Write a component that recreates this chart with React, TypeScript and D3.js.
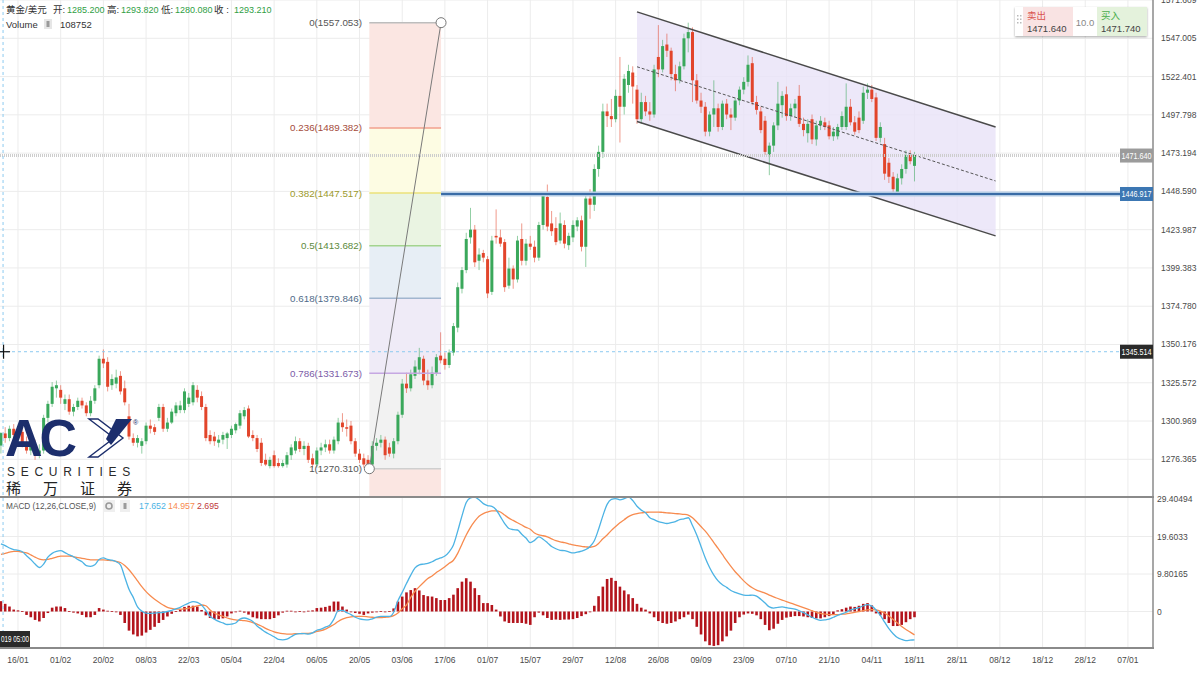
import React from "react";
import * as d3 from "d3";

// layout
const AXIS_X = 1153;
const MAIN_BOTTOM = 497;
const MACD_BOTTOM = 648;
const FONT = "'Liberation Sans', Arial, 'Noto Sans CJK SC', sans-serif";

// x axis labels, one every 10 bars starting at bar 4
const dateLabels = ["16/01", "01/02", "20/02", "08/03", "22/03", "05/04", "22/04", "06/05", "20/05", "03/06", "17/06", "01/07", "15/07", "29/07", "12/08", "26/08", "09/09", "23/09", "07/10", "21/10", "04/11", "18/11", "28/11", "08/12", "18/12", "28/12", "07/01"];
const priceTicks = [1276.365, 1300.969, 1325.572, 1350.176, 1374.78, 1399.383, 1423.987, 1448.59, 1473.194, 1497.798, 1522.401, 1547.005, 1571.609];
const macdTicks = [0, 9.80165, 19.6033, 29.40494];
const macdTickLabels = ["0", "9.80165", "19.6033", "29.40494"];

// daily candles: open, high, low, close
const candles: [number, number, number, number][] = [
  [1285.2, 1293.82, 1280.08, 1293.21], [1293, 1297, 1287, 1290], [1290, 1298, 1288, 1296], [1296, 1299, 1290, 1292], [1292, 1296, 1287, 1294],
  [1294, 1297, 1284, 1286], [1286, 1291, 1280, 1282], [1282, 1287, 1279, 1285], [1285, 1289, 1276, 1280], [1280, 1286, 1277, 1282],
  [1282, 1305, 1280, 1303], [1303, 1314, 1300, 1312], [1312, 1326, 1310, 1323], [1322, 1327, 1316, 1324], [1321, 1324, 1312, 1316],
  [1312, 1318, 1308, 1315], [1315, 1318, 1305, 1307], [1307, 1312, 1304, 1310], [1310, 1316, 1308, 1314], [1314, 1316, 1309, 1311],
  [1311, 1313, 1304, 1306], [1306, 1317, 1304, 1314], [1314, 1324, 1312, 1322], [1324, 1343, 1322, 1341], [1341, 1347, 1335, 1338],
  [1339, 1342, 1320, 1323], [1324, 1331, 1321, 1328], [1325, 1334, 1322, 1329], [1330, 1333, 1318, 1320], [1322, 1327, 1311, 1313],
  [1304, 1312, 1289, 1291], [1290, 1293, 1285, 1287], [1287, 1292, 1284, 1290], [1285, 1290, 1280, 1288], [1288, 1300, 1286, 1298],
  [1298, 1302, 1293, 1296], [1297, 1299, 1292, 1294], [1303, 1312, 1301, 1310], [1310, 1312, 1294, 1296], [1296, 1303, 1294, 1300],
  [1300, 1309, 1299, 1307], [1306, 1313, 1304, 1311], [1308, 1314, 1306, 1311], [1308, 1322, 1306, 1320], [1312, 1319, 1310, 1316],
  [1313, 1326, 1311, 1324], [1321, 1324, 1313, 1316], [1317, 1320, 1308, 1310], [1310, 1312, 1288, 1290], [1292, 1295, 1286, 1288],
  [1291, 1294, 1285, 1288], [1287, 1292, 1284, 1289], [1289, 1294, 1286, 1292], [1290, 1294, 1283, 1293], [1292, 1298, 1290, 1296],
  [1295, 1300, 1293, 1299], [1298, 1308, 1296, 1306], [1304, 1310, 1302, 1308], [1309, 1311, 1290, 1291], [1292, 1295, 1288, 1290],
  [1290, 1292, 1281, 1283], [1287, 1290, 1272, 1274], [1276, 1280, 1272, 1273], [1272, 1278, 1270.5, 1276], [1279, 1282, 1271, 1272],
  [1274, 1277, 1271, 1272], [1272, 1276, 1271, 1274], [1273, 1281, 1271, 1279], [1279, 1286, 1276, 1284], [1282, 1291, 1280, 1288],
  [1288, 1290, 1281, 1283], [1283, 1288, 1279, 1285], [1285, 1287, 1274, 1276], [1277, 1280, 1271, 1273], [1273, 1284, 1271, 1282],
  [1282, 1287, 1279, 1284], [1284, 1289, 1281, 1286], [1286, 1289, 1280, 1282], [1282, 1291, 1280, 1289], [1288, 1303, 1286, 1300],
  [1300, 1306, 1294, 1297], [1297, 1302, 1291, 1296], [1298, 1301, 1286, 1288], [1288, 1290, 1278, 1280], [1280, 1283, 1274, 1276],
  [1277, 1280, 1271, 1273], [1276, 1279, 1270.31, 1273], [1273, 1288, 1271, 1285], [1285, 1290, 1282, 1287], [1287, 1292, 1284, 1289],
  [1289, 1291, 1276, 1279], [1284, 1287, 1278, 1280], [1280, 1290, 1277, 1288], [1288, 1307, 1286, 1305], [1305, 1328, 1303, 1325],
  [1325, 1332, 1319, 1322], [1322, 1334, 1320, 1331], [1330, 1340, 1328, 1336], [1334, 1348, 1331, 1342], [1341, 1343, 1324, 1327],
  [1327, 1334, 1321, 1324], [1324, 1336, 1322, 1332], [1332, 1344, 1330, 1342], [1343, 1358, 1338, 1340], [1341, 1345, 1334, 1337],
  [1337, 1347, 1335, 1345], [1345, 1364, 1343, 1362], [1361, 1390, 1358, 1387], [1386, 1400, 1383, 1398], [1398, 1422, 1396, 1418],
  [1419, 1438, 1415, 1424], [1424, 1427, 1400, 1403], [1404, 1412, 1398, 1408], [1409, 1411, 1403, 1406], [1405, 1407, 1380, 1383],
  [1384, 1420, 1382, 1417], [1420, 1437, 1415, 1419], [1419, 1424, 1413, 1415], [1416, 1418, 1384, 1387], [1388, 1406, 1386, 1399],
  [1399, 1401, 1386, 1392], [1392, 1420, 1390, 1417], [1418, 1428, 1401, 1404], [1404, 1418, 1401, 1415], [1415, 1420, 1411, 1413],
  [1413, 1417, 1403, 1406], [1406, 1429, 1404, 1427], [1427, 1448, 1424, 1446], [1445, 1453, 1423, 1426], [1428, 1436, 1420, 1423],
  [1425, 1432, 1414, 1416], [1417, 1435, 1415, 1428], [1427, 1430, 1412, 1415], [1414, 1422, 1411, 1420], [1419, 1430, 1416, 1427],
  [1426, 1432, 1423, 1430], [1430, 1433, 1410, 1413], [1413, 1446, 1400, 1444], [1444, 1450, 1431, 1440], [1440, 1466, 1436, 1463],
  [1463, 1478, 1458, 1474], [1474, 1505, 1470, 1500], [1500, 1505, 1490, 1497], [1497, 1508, 1490, 1495], [1495, 1514, 1493, 1510],
  [1510, 1535, 1480, 1503], [1503, 1524, 1498, 1521], [1517, 1530, 1512, 1526], [1525, 1529, 1505, 1516], [1514, 1517, 1492, 1495],
  [1495, 1512, 1492, 1506], [1506, 1510, 1497, 1500], [1500, 1506, 1494, 1498], [1498, 1530, 1496, 1527], [1535, 1555.5, 1522, 1527],
  [1527, 1546, 1525, 1542], [1543, 1550, 1535, 1539], [1539, 1541, 1520, 1524], [1524, 1530, 1513, 1520], [1520, 1532, 1518, 1529],
  [1529, 1550, 1527, 1547], [1547, 1557.05, 1538, 1551], [1551, 1554, 1506, 1520], [1520, 1524, 1505, 1507], [1507, 1512, 1499, 1503],
  [1503, 1506, 1484, 1487], [1487, 1500, 1484, 1498], [1498, 1520, 1490, 1502], [1502, 1505, 1487, 1490], [1490, 1507, 1488, 1505],
  [1505, 1508, 1495, 1498], [1498, 1502, 1488, 1496], [1496, 1509, 1494, 1507], [1507, 1516, 1504, 1514], [1514, 1522, 1511, 1519],
  [1519, 1536, 1516, 1530], [1531, 1535, 1504, 1506], [1506, 1510, 1498, 1501], [1500, 1503, 1486, 1488], [1494, 1497, 1472, 1474],
  [1472, 1480, 1459, 1478], [1478, 1493, 1474, 1491], [1491, 1519, 1488, 1505], [1504, 1513, 1496, 1510], [1511, 1516, 1494, 1497],
  [1497, 1505, 1494, 1502], [1502, 1508, 1496, 1505], [1510, 1517, 1490, 1492], [1492, 1496, 1484, 1488], [1486, 1495, 1480, 1492],
  [1495, 1498, 1479, 1482], [1482, 1494, 1478, 1491], [1491, 1497, 1488, 1494], [1493, 1496, 1488, 1490], [1491, 1494, 1482, 1484],
  [1484, 1490, 1481, 1487], [1484, 1492, 1482, 1490], [1490, 1500, 1488, 1497], [1490, 1518, 1488, 1503], [1503, 1508, 1491, 1493],
  [1493, 1497, 1485, 1487], [1496, 1500, 1486, 1488], [1494, 1516, 1492, 1512], [1512, 1518, 1508, 1514], [1514, 1517, 1506, 1508],
  [1509, 1512, 1481, 1483], [1483, 1493, 1480, 1490], [1479, 1483, 1456, 1460], [1467, 1470, 1454, 1458], [1458, 1461, 1446, 1450],
  [1448, 1460, 1446, 1457], [1457, 1466, 1453, 1463], [1463, 1475, 1460, 1472], [1472, 1475, 1466, 1468], [1465, 1474, 1455, 1472],
];

// MACD pane
const macdLine = [
  17.65, 17.2, 16.6, 16.2, 16.0, 15.6, 14.6, 13.6, 12.4, 11.5,
  12.4, 14.2, 15.2, 15.7, 15.9, 15.4, 14.8, 14.3, 13.6, 13.0,
  12.0, 11.8, 12.2, 13.6, 14.0, 13.6, 13.4, 13.0, 12.2, 9.0,
  5.8, 3.7, 1.2, 0.1, -0.4, -0.5, -0.4, -0.3, -0.2, 0.0,
  0.3, 0.7, 1.1, 1.7, 2.2, 2.6, 2.4, 1.7, 0.3, -1.3,
  -2.0, -2.6, -3.0, -3.4, -3.3, -3.0, -2.0, -1.7, -2.0, -2.6,
  -3.8, -4.6, -5.4, -6.0, -6.6, -7.3, -7.4, -7.2, -6.6, -6.0,
  -5.8, -5.8, -5.9, -5.6, -4.9, -4.6, -4.1, -3.6, -2.0, 0.2,
  0.3, -0.3, -0.8, -1.5, -1.9, -2.1, -2.2, -1.9, -1.5, -1.3,
  -1.3, -1.3, -0.2, 2.8, 5.0, 7.3, 9.5, 11.4, 12.2, 12.4,
  12.6, 13.0, 13.6, 14.0, 14.5, 15.6, 17.4, 21.0, 25.0, 28.5,
  29.7, 29.9, 29.2, 28.2, 27.7, 27.5, 26.6, 24.8, 23.0, 21.7,
  21.4, 21.3, 20.2, 19.2, 18.0, 18.6, 19.5, 18.9, 18.0, 17.0,
  16.4, 16.0, 15.9, 15.6, 15.3, 15.5, 15.8, 16.2, 17.0, 18.5,
  21.5, 25.0, 28.0, 29.3, 29.5, 29.2, 29.5, 29.9, 29.0, 27.5,
  26.5, 25.8, 24.5, 24.0, 23.5, 23.2, 23.0, 23.2, 23.5, 24.0,
  24.2, 24.5, 22.5, 20.0, 17.0, 14.0, 11.5, 9.5, 8.0, 7.0,
  6.3, 5.5, 5.0, 4.6, 4.3, 4.2, 4.3, 4.0, 3.2, 2.2,
  1.2, 0.9, 1.1, 1.2, 1.0, 0.8, 0.6, 0.2, -0.3, -0.9,
  -1.5, -2.0, -2.3, -2.2, -2.0, -1.5, -1.0, -0.6, -0.2, 0.4,
  0.7, 1.0, 1.5, 1.8, 1.4, 0.4, -1.0, -2.8, -4.5, -5.8,
  -6.8, -7.3, -7.6, -7.5, -7.4,
];
const signalLine = [
  14.96, 15.2, 15.5, 15.7, 15.7, 15.5, 15.3, 14.8, 14.2, 13.7,
  13.5, 13.6, 13.9, 14.2, 14.5, 14.5, 14.5, 14.3, 14.1, 13.9,
  13.7, 13.5, 13.5, 13.5, 13.5, 13.4, 13.3, 13.1, 12.8, 12.0,
  10.9, 9.5, 8.0, 6.5, 5.2, 4.1, 3.2, 2.4, 1.7, 1.1,
  0.8, 0.6, 0.6, 0.7, 0.9, 1.2, 1.5, 1.7, 1.5, 0.4,
  -0.4, -0.9, -1.3, -1.7, -2.0, -2.2, -2.3, -2.4, -2.6, -2.9,
  -3.3, -3.8, -4.4, -4.9, -5.3, -5.6, -5.8, -5.9, -5.9, -5.8,
  -5.8, -5.7, -5.7, -5.6, -5.2, -5.0, -4.6, -4.0, -3.4, -2.6,
  -2.0, -1.6, -1.4, -1.3, -1.3, -1.3, -1.4, -1.5, -1.6, -1.6,
  -1.5, -1.4, -1.1, -0.4, 0.7, 1.7, 3.7, 5.3, 6.5, 7.6,
  8.6, 9.3, 10.2, 10.9, 11.7, 12.6, 13.4, 15.2, 17.6, 20.0,
  22.0, 23.6, 24.9, 25.6, 26.0, 26.3, 26.3, 26.0, 25.2, 24.4,
  23.8, 23.2, 22.6, 22.0, 21.5, 20.5, 20.0, 19.8, 19.5, 19.0,
  18.5, 18.2, 18.0, 17.7, 17.4, 17.2, 17.0, 16.9, 16.8, 17.0,
  17.8, 19.0, 20.0, 21.2, 22.2, 23.2, 24.0, 24.8, 25.3, 25.6,
  25.8, 25.9, 26.0, 26.0, 26.0, 25.9, 25.8, 25.7, 25.6, 25.5,
  25.4, 25.2, 24.5, 23.4, 22.2, 21.0, 19.6, 18.0, 16.5, 14.9,
  13.3, 11.8, 10.4, 9.2, 8.0, 7.0, 6.2, 5.6, 5.2, 4.8,
  4.3, 3.8, 3.4, 3.0, 2.6, 2.2, 1.8, 1.4, 1.0, 0.6,
  0.2, -0.2, -0.5, -0.7, -0.8, -0.8, -0.8, -0.7, -0.6, -0.4,
  -0.2, 0.0, 0.2, 0.4, 0.5, 0.4, 0.1, -0.4, -1.2, -2.1,
  -3.0, -3.9, -4.7, -5.4, -6.1,
];
const histogram = [
  2.7, 2.0, 1.3, 0.5, 0.3, 0.1, -0.9, -1.5, -2.2, -2.6,
  -1.7, -0.4, 1.0, 1.3, 1.3, 0.9, 0.1, -0.3, -0.5, -0.9,
  -1.5, -1.5, -0.9, 0.9, 0.5, 0.2, 0.1, -0.2, -0.9, -3.0,
  -5.0, -6.0, -6.5, -6.3, -5.5, -4.8, -4.0, -3.0, -2.2, -1.3,
  -0.6, 0.1, 0.5, 1.2, 1.5, 1.5, 1.3, 0.4, -1.0, -1.7,
  -2.0, -2.0, -1.8, -1.3, -0.5, -0.2, 0.2, -0.3, -0.8, -1.5,
  -1.8, -2.0, -2.0, -2.0, -1.7, -1.0, -0.3, 0.2, 0.2, 0.0,
  0.1, 0.0, 0.2, 0.3, 0.9, 1.0, 1.2, 1.5, 2.6, 2.6,
  1.3, 0.5, -0.2, -0.4, -0.6, -0.9, -0.5, -0.3, 0.0, 0.1,
  -0.2, 0.1, 0.8, 2.6, 3.9, 5.0, 5.6, 6.1, 5.5, 4.3,
  4.0, 3.9, 3.5, 3.0, 3.0, 3.5, 4.4, 6.1, 7.8, 8.7,
  7.8, 6.1, 4.3, 2.2, 2.2, 1.7, 0.5, -1.3, -2.6, -3.0,
  -3.0, -3.0, -3.0, -3.2, -3.5, -1.5, -0.3, -1.0, -1.7, -2.2,
  -2.1, -2.2, -2.1, -2.1, -2.0, -1.7, -1.2, -0.7, -0.2, 1.5,
  4.0, 6.5, 8.5, 8.8, 8.0, 6.5, 5.5, 4.5, 3.5, 2.0,
  1.0, 0.5, -0.5, -1.5, -2.5, -3.0, -3.2, -3.0, -2.6, -2.0,
  -1.5, -0.8, -2.0, -4.0, -6.0, -7.8, -8.8, -9.0, -8.8, -7.8,
  -6.5, -5.0, -3.0, -1.5, -0.8, -0.5, -0.6, -1.0, -2.0, -3.5,
  -4.9, -4.5, -3.2, -2.2, -1.6, -1.4, -1.2, -1.2, -1.3, -1.5,
  -1.7, -1.8, -1.8, -1.5, -1.2, -0.7, 0.3, 0.6, 1.0, 1.3,
  1.2, 1.5, 2.0, 2.2, 1.6, -0.5, -1.0, -2.0, -3.0, -3.8,
  -3.8, -3.5, -2.8, -2.0, -1.5,
];

// drawing tools
const fibLevels = ["0", "0.236", "0.382", "0.5", "0.618", "0.786", "1"];
const fibPrices = [1557.053, 1489.382, 1447.517, 1413.682, 1379.846, 1331.673, 1270.31];
const fibBars = [86.3, 103.1];
const fibFill = ["#fbe6e2", "#fdfce3", "#eaf4e2", "#e7eef5", "#efebf7", "#f2f2f2", "#fbe6e2"];
const fibStroke = ["#bdbdbd", "#f2a08e", "#ebe27a", "#a3d48e", "#a1b6cf", "#c6a8e2", "#cfcfcf"];
const fibText = ["#555", "#a44b3b", "#9c9a2c", "#5c8a3c", "#4f6b89", "#7b5ca8", "#555"];
const channelUpper: [number, number][] = [[149, 1564], [233, 1490]];
const channelMid: [number, number][] = [[149, 1528.7], [233, 1455.3]];
const channelLower: [number, number][] = [[149, 1493.5], [233, 1420]];
const lastPrice = 1471.64;
const supportPrice = 1446.917;
const crossPrice = 1345.514;
const crossBar = 0.5;

export default function App() {
  const x = d3.scaleLinear().domain([0, 260]).range([0.92, 1110.86]);
  const y = d3.scaleLinear().domain([1276.365, 1547.005]).range([459.3, 38.3]);
  const ym = d3.scaleLinear().domain([0, 19.6033]).range([611.5, 536.5]);

  const lineOf = (vals: number[]) =>
    d3.line<number>().x((_, i) => x(i)).y((v) => ym(v)).curve(d3.curveMonotoneX)(vals) || "";
  const seg = (pts: [number, number][]) =>
    d3.line<[number, number]>().x((d) => x(d[0])).y((d) => y(d[1]))(pts) || "";

  const chanPoly = [...channelUpper, ...[...channelLower].reverse()];
  const chanPath = (d3.line<[number, number]>().x((d) => x(d[0])).y((d) => y(d[1]))(chanPoly) || "") + "Z";

  const fx0 = x(fibBars[0]);
  const fx1 = x(fibBars[1]);

  const axisBox = (price: number, fill: string) => (
    <g>
      <rect x={1120} y={y(price) - 7} width={33} height={14} fill={fill} />
      <text x={1121.5} y={y(price) + 3} fontSize={8.5} fill="#fff" textLength={30} lengthAdjust="spacingAndGlyphs">
        {price.toFixed(3)}
      </text>
    </g>
  );

  return (
    <div style={{ position: "fixed", left: 0, top: 0 }}>
      <svg width={1200} height={675} style={{ display: "block", background: "#fff" }} fontFamily={FONT}>
        <defs>
          <clipPath id="mainClip"><rect x={0} y={0} width={AXIS_X} height={MAIN_BOTTOM} /></clipPath>
          <clipPath id="macdClip"><rect x={0} y={MAIN_BOTTOM} width={AXIS_X} height={MACD_BOTTOM - MAIN_BOTTOM} /></clipPath>
          <filter id="shadow" x="-10%" y="-20%" width="120%" height="160%">
            <feDropShadow dx={0} dy={1} stdDeviation={1.2} floodColor="#000" floodOpacity={0.35} />
          </filter>
        </defs>

        {/* grid */}
        <g stroke="#ececec" strokeWidth={1}>
          {dateLabels.map((d, k) => (
            <line key={d} x1={x(4 + 10 * k)} x2={x(4 + 10 * k)} y1={0} y2={MACD_BOTTOM} />
          ))}
          {priceTicks.map((p) => (
            <line key={p} x1={0} x2={AXIS_X} y1={y(p)} y2={y(p)} />
          ))}
          {macdTicks.slice(0, 3).map((v) => (
            <line key={v} x1={0} x2={AXIS_X} y1={ym(v)} y2={ym(v)} />
          ))}
        </g>

        {/* price pane */}
        <g clipPath="url(#mainClip)">
          {fibPrices.map((p, k) => (
            <rect key={"fb" + k} x={fx0} width={fx1 - fx0} y={y(p)}
              height={(k < 6 ? y(fibPrices[k + 1]) : MAIN_BOTTOM) - y(p)} fill={fibFill[k]} />
          ))}
          <path d={chanPath} fill="#e9e2f7" fillOpacity={0.8} />

          {candles.map(([o, h, l, c], i) => {
            const up = c >= o;
            const col = up ? "#3aa85b" : "#e2452b";
            const top = y(Math.max(o, c));
            const bh = Math.max(1, Math.abs(y(o) - y(c)));
            return (
              <g key={i}>
                <line x1={x(i)} x2={x(i)} y1={y(h)} y2={y(l)} stroke={col} strokeOpacity={0.55} strokeWidth={1} />
                <rect x={x(i) - 1.5} width={3} y={top} height={bh} fill={col} />
              </g>
            );
          })}

          {fibPrices.map((p, k) => (
            <g key={"fl" + k}>
              <line x1={fx0} x2={fx1} y1={y(p)} y2={y(p)} stroke={fibStroke[k]} strokeWidth={1.5} />
              <text x={362} y={y(p) + 3.5} fontSize={9.8} textAnchor="end" fill={fibText[k]}>
                {fibLevels[k]}({p.toFixed(3)})
              </text>
            </g>
          ))}
          <line x1={fx0} y1={y(fibPrices[6])} x2={fx1} y2={y(fibPrices[0])} stroke="#7a7a7a" strokeWidth={1} />
          <circle cx={fx0} cy={y(fibPrices[6])} r={5} fill="#fff" stroke="#777" strokeWidth={1} />
          <circle cx={fx1} cy={y(fibPrices[0])} r={5} fill="#fff" stroke="#777" strokeWidth={1} />

          <path d={seg(channelUpper)} stroke="#4a4a4a" strokeWidth={1.5} fill="none" />
          <path d={seg(channelLower)} stroke="#4a4a4a" strokeWidth={1.5} fill="none" />
          <path d={seg(channelMid)} stroke="#555" strokeWidth={1} strokeDasharray="3,2" fill="none" />

          <line x1={0} x2={AXIS_X} y1={y(lastPrice)} y2={y(lastPrice)} stroke="#cdcdcd" strokeWidth={3} strokeDasharray="1,1" />
          <line x1={fx1} x2={AXIS_X} y1={y(supportPrice)} y2={y(supportPrice)} stroke="#b3cbe4" strokeWidth={5} />
          <line x1={fx1} x2={AXIS_X} y1={y(supportPrice)} y2={y(supportPrice)} stroke="#3a6ca6" strokeWidth={2} />
          <line x1={0} x2={AXIS_X} y1={y(crossPrice)} y2={y(crossPrice)} stroke="#8ccaf0" strokeWidth={1} strokeDasharray="3,3" />
        </g>

        {/* MACD pane */}
        <g clipPath="url(#macdClip)">
          {histogram.map((v, i) => (
            <rect key={i} x={x(i) - 1.3} width={2.6} y={Math.min(ym(v), ym(0))}
              height={Math.max(0.8, Math.abs(ym(v) - ym(0)))} fill="#b3141c" />
          ))}
          <path d={lineOf(signalLine)} fill="none" stroke="#f78b4f" strokeWidth={1.3} />
          <path d={lineOf(macdLine)} fill="none" stroke="#4cb3e4" strokeWidth={1.3} />
        </g>

        {/* crosshair */}
        <line x1={x(crossBar)} x2={x(crossBar)} y1={0} y2={MACD_BOTTOM} stroke="#8ccaf0" strokeWidth={1} strokeDasharray="3,3" />
        <g stroke="#111" strokeWidth={1.2}>
          <line x1={x(crossBar) - 6} x2={x(crossBar) + 7} y1={y(crossPrice)} y2={y(crossPrice)} />
          <line x1={x(crossBar) + 0.5} x2={x(crossBar) + 0.5} y1={y(crossPrice) - 7} y2={y(crossPrice) + 7} />
        </g>

        {/* logo */}
        <g>
          <text x={5} y={456} fontSize={52} fontWeight={900} fill="#1c2e6c" letterSpacing={-3} fontFamily="'Liberation Sans', Arial, sans-serif">AC</text>
          <path d="M89,419 L114,438 L89,457 L98,457 L123,438 L98,419 Z" fill="#fff" stroke="#1c2e6c" strokeWidth={1.4} />
          <path d="M116,419 L132,419 L111,445 L106,439 Z" fill="#1c2e6c" />
          <text x={133} y={425} fontSize={7} fill="#1c2e6c">®</text>
          <text x={7} y={476} fontSize={12} letterSpacing={5.7} fill="#2a2a2a">SECURITIES</text>
          {["稀", "万", "证", "券"].map((ch, k) => (
            <text key={ch} x={6 + k * 37} y={494} fontSize={15} fill="#222" fontFamily="'Noto Sans CJK SC', sans-serif">{ch}</text>
          ))}
        </g>

        {/* frame */}
        <line x1={0} x2={AXIS_X + 1} y1={MAIN_BOTTOM} y2={MAIN_BOTTOM} stroke="#8a8a8a" strokeWidth={2} />
        <line x1={0} x2={AXIS_X + 1} y1={MACD_BOTTOM} y2={MACD_BOTTOM} stroke="#8a8a8a" strokeWidth={2} />
        <line x1={AXIS_X} x2={AXIS_X} y1={0} y2={MACD_BOTTOM} stroke="#8a8a8a" strokeWidth={1.5} />

        {/* right axis */}
        <g fontSize={8.5} fill="#4a4a4a">
          {priceTicks.map((p) => (
            <text key={p} x={1161} y={y(p) + 3}>{p.toFixed(3)}</text>
          ))}
          {macdTicks.map((v, k) => (
            <text key={v} x={1157} y={ym(v) + 3}>{macdTickLabels[k]}</text>
          ))}
        </g>
        {axisBox(lastPrice, "#9b9b9b")}
        {axisBox(supportPrice, "#3c77b3")}
        {axisBox(crossPrice, "#2a2a2a")}

        {/* bottom axis */}
        <g fontSize={8.5} fill="#4a4a4a" textAnchor="middle">
          {dateLabels.map((d, k) => (
            <text key={d} x={x(4 + 10 * k)} y={663}>{d}</text>
          ))}
        </g>
        <rect x={0} y={631} width={30} height={16} fill="#2a2a2a" />
        <text x={1} y={642} fontSize={8.5} fill="#fff" textLength={28} lengthAdjust="spacingAndGlyphs">019  05:00</text>

        {/* headers */}
        <g fontSize={9} fill="#333">
          <text x={6} y={12.5} fontSize={9.5}>黄金/美元</text>
          <text x={53} y={12.5} fontSize={9.5}>开:</text>
          <text x={67} y={12.5} fill="#2f9e44">1285.200</text>
          <text x={107} y={12.5} fontSize={9.5}>高:</text>
          <text x={121} y={12.5} fill="#2f9e44">1293.820</text>
          <text x={161} y={12.5} fontSize={9.5}>低:</text>
          <text x={175} y={12.5} fill="#2f9e44">1280.080</text>
          <text x={214} y={12.5} fontSize={9.5}>收 :</text>
          <text x={234} y={12.5} fill="#2f9e44">1293.210</text>
          <text x={6} y={27.5} fontSize={9.5}>Volume</text>
          <text x={60} y={27.5} fontSize={9.5}>108752</text>
        </g>
        <rect x={44} y={19} width={8} height={10} fill="#e6e6e6" />
        <rect x={46.5} y={21} width={3} height={6} fill="#9a9a9a" />

        <g fontSize={8.8}>
          <text x={6} y={509} fill="#555" textLength={90} lengthAdjust="spacingAndGlyphs">MACD (12,26,CLOSE,9)</text>
          <text x={139} y={509} fill="#4cb3e4">17.652</text>
          <text x={168} y={509} fill="#f78b4f">14.957</text>
          <text x={197} y={509} fill="#c0393b">2.695</text>
        </g>
        <rect x={103} y={500} width={12} height={12} fill="#efefef" />
        <circle cx={109} cy={506} r={3} fill="none" stroke="#999" strokeWidth={1.6} />
        <rect x={120} y={500} width={10} height={12} fill="#efefef" />
        <rect x={123.5} y={503} width={3} height={6} fill="#9a9a9a" />

        {/* trade box */}
        <g filter="url(#shadow)">
          <rect x={1015} y={7} width={132} height={29} fill="#fff" />
        </g>
        <rect x={1023} y={7} width={50} height={29} fill="#f9e3e3" />
        <rect x={1097} y={7} width={50} height={29} fill="#e4f2dc" />
        <g fill="#b9b9b9">
          {[0, 1, 2].map((r) => (
            <g key={r}>
              <rect x={1017} y={15 + r * 3.5} width={1.5} height={1.5} />
              <rect x={1020} y={15 + r * 3.5} width={1.5} height={1.5} />
            </g>
          ))}
        </g>
        <g fontSize={9.5}>
          <text x={1027} y={19} fill="#d9534f">卖出</text>
          <text x={1027} y={32} fill="#444">1471.640</text>
          <text x={1085} y={26} fill="#888" textAnchor="middle">10.0</text>
          <text x={1101} y={19} fill="#4cae4c">买入</text>
          <text x={1101} y={32} fill="#444">1471.740</text>
        </g>
      </svg>
    </div>
  );
}
